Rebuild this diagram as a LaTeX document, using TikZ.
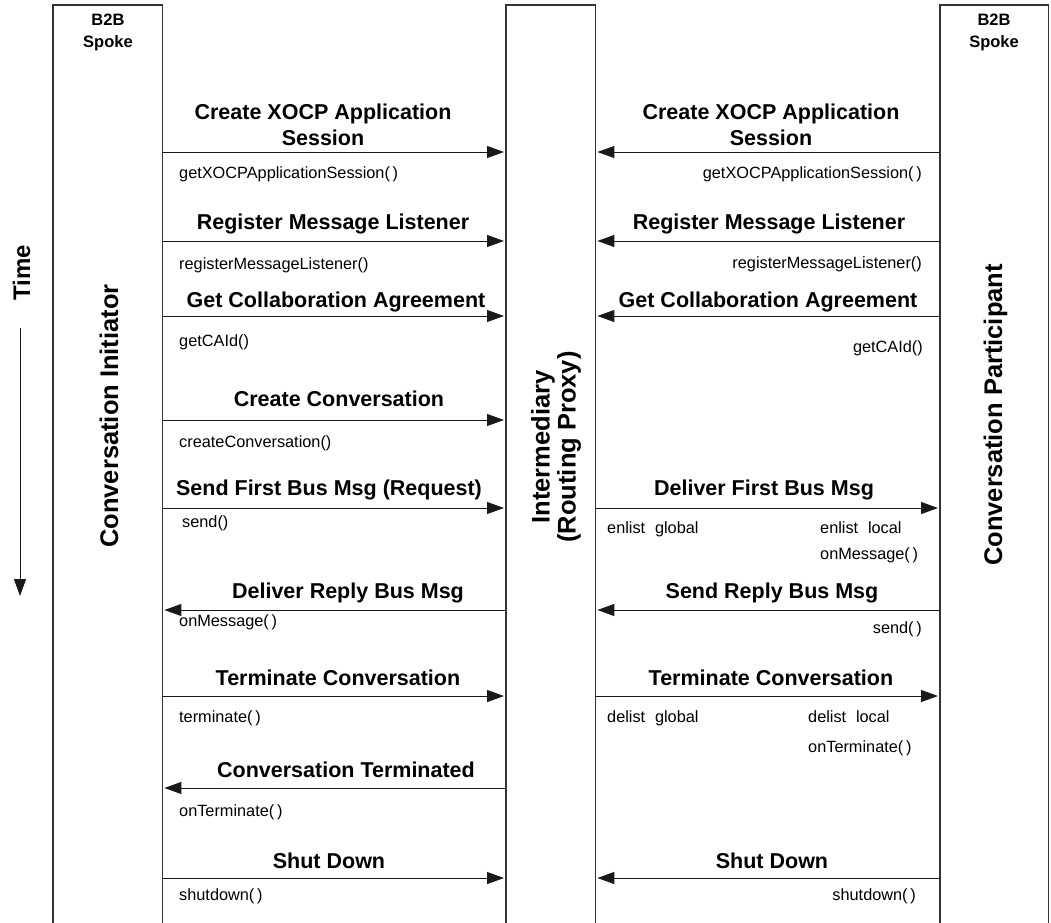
\documentclass[tikz,border=0pt]{standalone}
\usepackage{fontspec}
\setmainfont{Liberation Sans}
\usetikzlibrary{arrows.meta}
\begin{document}
\begin{tikzpicture}[x=1pt,y=-1pt,
  lifebox/.style={draw=none, minimum width=#1, minimum height=930, anchor=north west, inner sep=0pt},
  boxline/.style={draw=black!80, line width=1.2pt},
  msg/.style={draw=black!90, line width=1pt, -{Triangle[length=17pt,width=12pt]}, shorten >=2pt},
  ttl/.style={font=\fontsize{21.5}{26}\selectfont\bfseries, inner sep=0pt, anchor=base},
  call/.style={font=\fontsize{16.3}{20}\selectfont, inner sep=0pt},
  spoke/.style={font=\fontsize{16.5}{22}\selectfont\bfseries, align=center, inner sep=0pt},
  vert/.style={font=\fontsize{25.5}{26}\selectfont\bfseries, rotate=90, inner sep=0pt, anchor=base}]
\useasboundingbox (0,0) rectangle (1051,922);

% lifelines (open at the bottom)
\node[lifebox=109] (L) at (53,5) {};
\node[lifebox=89]  (M) at (506,5) {};
\node[lifebox=108] (R) at (940,5) {};
\draw[boxline] (L.south west) |- (L.north east) -- (L.south east);
\draw[boxline] (M.south west) |- (M.north east) -- (M.south east);
\draw[boxline] (R.south west) |- (R.north east) -- (R.south east);

% headers and lifeline names
\node[spoke] (spL) at (108,32) {B2B\\Spoke};
\node[spoke] (spR) at (994,32) {B2B\\Spoke};
\node[vert] (ci) at (118,416) {Conversation Initiator};
\node[vert] (cp) at (1002,415) {Conversation Participant};
\node[vert, anchor=center, align=center] (ip) at (556,447) {Intermediary\\(Routing Proxy)};

% time axis
\node[vert, font=\fontsize{24}{28}\selectfont\bfseries] (time) at (30,273) {Time};
\coordinate (tA) at (20,328);
\coordinate (tB) at (20,596);
\draw[msg, shorten >=0pt] (tA) -- (tB);

% messages: initiator side
\draw[msg] (L.east |- 0,152) -- (M.west |- 0,152);
\draw[msg] (L.east |- 0,241) -- (M.west |- 0,241);
\draw[msg] (L.east |- 0,316) -- (M.west |- 0,316);
\draw[msg] (L.east |- 0,420) -- (M.west |- 0,420);
\draw[msg] (L.east |- 0,508) -- (M.west |- 0,508);
\draw[msg] (M.west |- 0,610) -- (L.east |- 0,610);
\draw[msg] (L.east |- 0,696) -- (M.west |- 0,696);
\draw[msg] (M.west |- 0,788) -- (L.east |- 0,788);
\draw[msg] (L.east |- 0,878) -- (M.west |- 0,878);

% messages: participant side
\draw[msg] (R.west |- 0,152) -- (M.east |- 0,152);
\draw[msg] (R.west |- 0,241) -- (M.east |- 0,241);
\draw[msg] (R.west |- 0,316) -- (M.east |- 0,316);
\draw[msg] (M.east |- 0,508) -- (R.west |- 0,508);
\draw[msg] (R.west |- 0,610) -- (M.east |- 0,610);
\draw[msg] (M.east |- 0,696) -- (R.west |- 0,696);
\draw[msg] (R.west |- 0,878) -- (M.east |- 0,878);

% message titles: initiator side
\node[ttl, anchor=south, align=center] (t1l) at (323,146) {Create XOCP Application\\Session};
\node[ttl] (t2l) at (333,229) {Register Message Listener};
\node[ttl] (t3l) at (336,307) {Get Collaboration Agreement};
\node[ttl] (t4l) at (339,406) {Create Conversation};
\node[ttl] (t5l) at (329,495) {Send First Bus Msg (Request)};
\node[ttl] (t6l) at (348,598) {Deliver Reply Bus Msg};
\node[ttl] (t7l) at (338,685) {Terminate Conversation};
\node[ttl] (t8l) at (346,777) {Conversation Terminated};
\node[ttl] (t9l) at (329,868) {Shut Down};

% message titles: participant side
\node[ttl, anchor=south, align=center] (t1r) at (771,146) {Create XOCP Application\\Session};
\node[ttl] (t2r) at (769,229) {Register Message Listener};
\node[ttl] (t3r) at (768,307) {Get Collaboration Agreement};
\node[ttl] (t5r) at (764,495) {Deliver First Bus Msg};
\node[ttl] (t6r) at (772,598) {Send Reply Bus Msg};
\node[ttl] (t7r) at (771,685) {Terminate Conversation};
\node[ttl] (t9r) at (772,868) {Shut Down};

% calls: initiator side
\node[call, anchor=base west] (c1l) at (179,178) {getXOCPApplicationSession(\,)};
\node[call, anchor=base west] (c2l) at (179,269) {registerMessageListener()};
\node[call, anchor=base west] (c3l) at (179,346) {getCAId()};
\node[call, anchor=base west] (c4l) at (179,447) {createConversation()};
\node[call, anchor=base west] (c5l) at (182,527) {send()};
\node[call, anchor=base west] (c6l) at (179,626) {onMessage(\,)};
\node[call, anchor=base west] (c7l) at (179,722) {terminate(\,)};
\node[call, anchor=base west] (c8l) at (179,816) {onTerminate(\,)};
\node[call, anchor=base west] (c9l) at (179,900) {shutdown(\,)};

% calls: participant side
\node[call, anchor=base east] (c1r) at (922,178) {getXOCPApplicationSession(\,)};
\node[call, anchor=base east] (c2r) at (922,268) {registerMessageListener()};
\node[call, anchor=base east] (c3r) at (923,352) {getCAId()};
\node[call, anchor=base west] (c5a) at (607,533) {enlist\hspace{0.6em}global};
\node[call, anchor=base west] (c5b) at (820,533) {enlist\hspace{0.6em}local};
\node[call, anchor=base west] (c5c) at (820,559) {onMessage(\,)};
\node[call, anchor=base east] (c6r) at (922,633) {send(\,)};
\node[call, anchor=base west] (c7a) at (607,722) {delist\hspace{0.6em}global};
\node[call, anchor=base west] (c7b) at (808,722) {delist\hspace{0.6em}local};
\node[call, anchor=base west] (c7c) at (808,752) {onTerminate(\,)};
\node[call, anchor=base east] (c9r) at (916,900) {shutdown(\,)};
\end{tikzpicture}
\end{document}
